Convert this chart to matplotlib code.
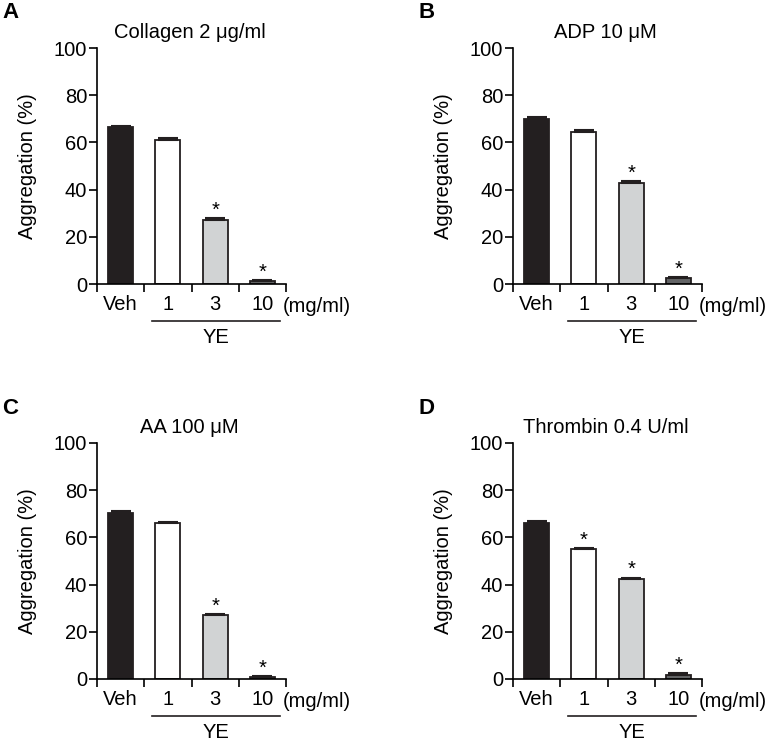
import matplotlib.pyplot as plt
import numpy as np

plt.rcParams['font.family'] = ['Liberation Sans', 'DejaVu Sans']

categories = ["Veh", "1", "3", "10"]
bar_colors = ["#231f20", "#ffffff", "#d1d3d4", "#636466"]

titles = ["Collagen 2 \u03bcg/ml", "ADP 10 \u03bcM", "AA 100 \u03bcM", "Thrombin 0.4 U/ml"]
letters = ["A", "B", "C", "D"]

collagen_vals = [66.5, 61.0, 27.0, 1.2]
collagen_err = [0.6, 1.0, 0.8, 0.6]
collagen_sig = [False, False, True, True]

adp_vals = [70.0, 64.5, 43.0, 2.5]
adp_err = [0.8, 0.7, 0.7, 0.5]
adp_sig = [False, False, True, True]

aa_vals = [70.5, 66.0, 27.0, 0.8]
aa_err = [0.7, 0.6, 0.6, 0.4]
aa_sig = [False, False, True, True]

thrombin_vals = [66.3, 55.0, 42.3, 1.5]
thrombin_err = [0.7, 0.6, 0.7, 1.0]
thrombin_sig = [False, True, True, True]

panels = [
    (collagen_vals, collagen_err, collagen_sig),
    (adp_vals, adp_err, adp_sig),
    (aa_vals, aa_err, aa_sig),
    (thrombin_vals, thrombin_err, thrombin_sig),
]

W, H = 768, 742
fs = 14.5
fig = plt.figure(figsize=(W / 100, H / 100), dpi=100)

# axes boxes in pixels: left, top (y=100), right, bottom (y=0)
boxes = [(97, 48, 286, 284), (513, 48, 702, 284),
         (97, 443, 286, 679), (513, 443, 702, 679)]

for i, (vals, errs, sig) in enumerate(panels):
    l, t, r, b = boxes[i]
    ax = fig.add_axes([l / W, 1 - b / H, (r - l) / W, (b - t) / H])
    x = np.arange(len(categories)) + 0.5
    ax.bar(x, vals, width=0.53, color=bar_colors, edgecolor="#231f20", linewidth=1.3, zorder=2)
    ax.errorbar(x, vals, yerr=[np.zeros(len(errs)), errs], fmt="none", ecolor="#231f20",
                elinewidth=1.2, capsize=7, capthick=1.5, zorder=3)
    for xi, v, e, s in zip(x, vals, errs, sig):
        if s:
            ax.text(xi, v + e + 1.0, "*", ha="center", va="baseline", fontsize=fs)
    ax.set_xlim(0, 4)
    ax.set_ylim(0, 100)
    ax.set_yticks([0, 20, 40, 60, 80, 100])
    ax.set_xticks([0, 1, 2, 3, 4])
    ax.set_xticklabels([])
    ax.set_xticks(x, minor=True)
    ax.set_xticklabels(categories, minor=True, fontsize=fs)
    ax.tick_params(axis="x", which="minor", length=0, pad=8)
    ax.tick_params(axis="x", which="major", length=6, width=1.2, direction="out")
    ax.tick_params(axis="y", length=6, width=1.2, labelsize=fs, pad=1)
    for sp in ["top", "right"]:
        ax.spines[sp].set_visible(False)
    for sp in ["left", "bottom"]:
        ax.spines[sp].set_linewidth(1.2)
    ax.text(-0.37, 0.5, "Aggregation (%)", transform=ax.transAxes, rotation=90,
            ha="center", va="center", fontsize=fs)
    ax.text(0.49, 1.064, titles[i], transform=ax.transAxes, ha="center", va="center", fontsize=fs)
    xt = ax.get_xaxis_transform()
    ax.text(3.94, -0.097, "(mg/ml)", transform=xt, ha="left", va="center", fontsize=fs)
    ax.plot([1.16, 3.87], [-0.157, -0.157], transform=xt, color="#231f20",
            lw=1.2, clip_on=False)
    ax.text(2.52, -0.225, "YE", transform=xt, ha="center", va="center", fontsize=fs)
    fig.text((l - 95) / W, 1 - (t - 35) / H, letters[i], fontsize=16, fontweight="bold",
             family=["Liberation Sans Narrow", "Liberation Sans"], ha="left", va="center")

plt.savefig("out.png", dpi=100)
